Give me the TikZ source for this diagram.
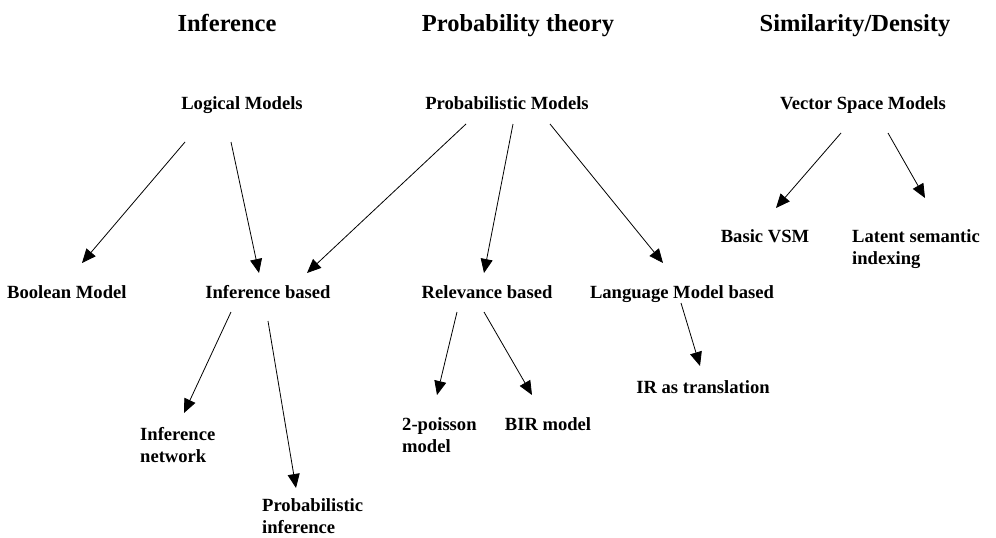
\documentclass[tikz,border=0pt]{standalone}
\usepackage{fontspec}
\setmainfont{Liberation Serif}
\usetikzlibrary{arrows.meta}
\tikzset{
  heading/.style={inner sep=0pt, font=\bfseries\fontsize{24.5}{29}\selectfont},
  model/.style={inner sep=0pt, align=left, font=\bfseries\fontsize{18.6}{22}\selectfont},
  arrow/.style={-{Triangle[length=14pt,width=12pt]}, line width=0.8pt}
}

\begin{document}
\begin{tikzpicture}[x=1pt, y=-1pt]
  \useasboundingbox (0,0) rectangle (996,538);
  % column headings
  \node[heading, anchor=base] (hinf) at (227,31) {Inference};
  \node[heading, anchor=base] (hprob) at (518,31) {Probability theory};
  \node[heading, anchor=base] (hsim) at (855,31) {Similarity/Density};
  % model families
  \node[model, anchor=base] (lm) at (242,109) {Logical Models};
  \node[model, anchor=base] (pm) at (507,109) {Probabilistic Models};
  \node[model, anchor=base] (vsm) at (863,109) {Vector Space Models};
  % second level
  \node[model, anchor=base west] (bool) at (7,298) {Boolean Model};
  \node[model, anchor=base] (ib) at (268,298) {Inference based};
  \node[model, anchor=base] (rel) at (487,298) {Relevance based};
  \node[model, anchor=base] (lmb) at (682,298) {Language Model based};
  \node[model, anchor=base] (bvsm) at (765,242) {Basic VSM};
  \node[model, anchor=base west] (lsi) at (852,264) {Latent semantic\\indexing};
  % third level (base = last line)
  \node[model, anchor=base] (irt) at (703,393) {IR as translation};
  \node[model, anchor=base west] (twop) at (402,452) {2-poisson\\model};
  \node[model, anchor=base] (bir) at (548,430) {BIR model};
  \node[model, anchor=base west] (inet) at (140,462) {Inference\\network};
  \node[model, anchor=base west] (pinf) at (262,533) {Probabilistic\\inference};
  % arrow ends
  \coordinate (lm-a) at (185,142);  \coordinate (bool-in) at (82,263);
  \coordinate (lm-b) at (231,142);  \coordinate (ib-in1) at (259,273);
  \coordinate (pm-a) at (466,124);  \coordinate (ib-in2) at (307,273);
  \coordinate (pm-b) at (513,124);  \coordinate (rel-in) at (484,273);
  \coordinate (pm-c) at (550,124);  \coordinate (lmb-in) at (663,263);
  \coordinate (vsm-a) at (841,133); \coordinate (bvsm-in) at (776,208);
  \coordinate (vsm-b) at (888,133); \coordinate (lsi-in) at (925,198);
  \coordinate (ib-a) at (231,312);  \coordinate (inet-in) at (184,413);
  \coordinate (ib-b) at (268,321);  \coordinate (pinf-in) at (296,488);
  \coordinate (rel-a) at (457,312); \coordinate (twop-in) at (437,395);
  \coordinate (rel-b) at (484,312); \coordinate (bir-in) at (532,395);
  \coordinate (lmb-a) at (681,303); \coordinate (irt-in) at (700,366);
  \draw[arrow] (lm-a) -- (bool-in);
  \draw[arrow] (lm-b) -- (ib-in1);
  \draw[arrow] (pm-a) -- (ib-in2);
  \draw[arrow] (pm-b) -- (rel-in);
  \draw[arrow] (pm-c) -- (lmb-in);
  \draw[arrow] (vsm-a) -- (bvsm-in);
  \draw[arrow] (vsm-b) -- (lsi-in);
  \draw[arrow] (ib-a) -- (inet-in);
  \draw[arrow] (ib-b) -- (pinf-in);
  \draw[arrow] (rel-a) -- (twop-in);
  \draw[arrow] (rel-b) -- (bir-in);
  \draw[arrow] (lmb-a) -- (irt-in);
\end{tikzpicture}
\end{document}
